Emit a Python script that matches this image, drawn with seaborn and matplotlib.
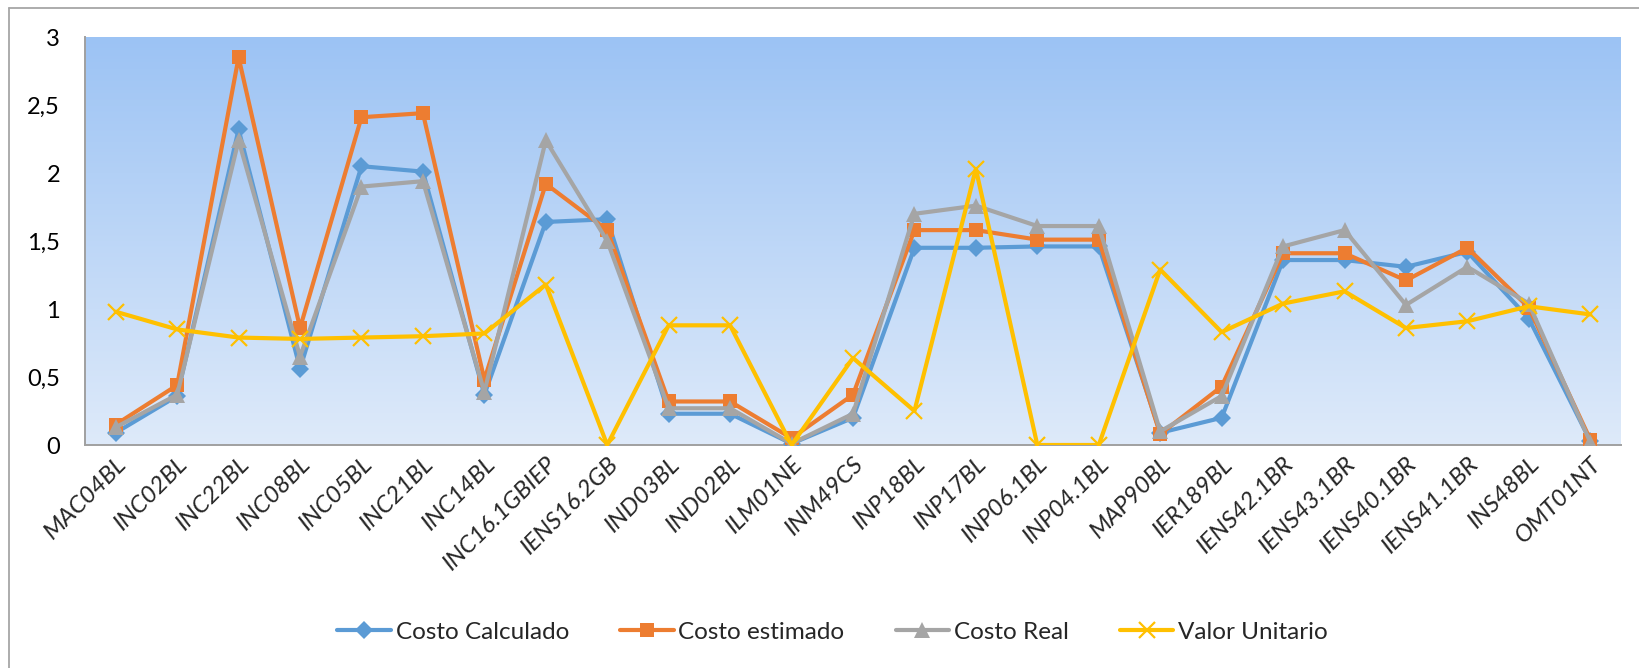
import matplotlib
matplotlib.use("Agg")
import matplotlib.pyplot as plt
import numpy as np
import pandas as pd
import seaborn as sns
from matplotlib.lines import Line2D
from matplotlib.ticker import FuncFormatter, MultipleLocator

categories = [
    "MAC04BL", "INC02BL", "INC22BL", "INC08BL", "INC05BL", "INC21BL",
    "INC14BL", "INC16.1GBIEP", "IENS16.2GB", "IND03BL", "IND02BL", "ILM01NE",
    "INM49CS", "INP18BL", "INP17BL", "INP06.1BL", "INP04.1BL", "MAP90BL",
    "IER189BL", "IENS42.1BR", "IENS43.1BR", "IENS40.1BR", "IENS41.1BR",
    "INS48BL", "OMT01NT",
]

costo_calculado = [0.09, 0.36, 2.32, 0.56, 2.05, 2.01, 0.37, 1.64, 1.66, 0.23,
                   0.23, 0.01, 0.20, 1.45, 1.45, 1.46, 1.46, 0.09, 0.20, 1.36,
                   1.36, 1.31, 1.42, 0.93, 0.03]
costo_estimado = [0.15, 0.44, 2.85, 0.86, 2.41, 2.44, 0.48, 1.92, 1.58, 0.32,
                  0.32, 0.05, 0.37, 1.58, 1.58, 1.51, 1.51, 0.08, 0.43, 1.41,
                  1.41, 1.21, 1.45, 1.01, 0.04]
costo_real = [0.13, 0.37, 2.24, 0.65, 1.90, 1.94, 0.39, 2.24, 1.50, 0.27,
              0.27, 0.01, 0.23, 1.70, 1.76, 1.61, 1.61, 0.10, 0.36, 1.46,
              1.58, 1.03, 1.31, 1.04, 0.02]
valor_unitario = [0.98, 0.85, 0.79, 0.78, 0.79, 0.80, 0.82, 1.18, 0.00, 0.88,
                  0.88, 0.00, 0.64, 0.25, 2.03, 0.00, 0.00, 1.29, 0.83, 1.04,
                  1.13, 0.86, 0.91, 1.02, 0.96]

series_names = ["Costo Calculado", "Costo estimado", "Costo Real", "Valor Unitario"]
colors = ["#5B9BD5", "#ED7D31", "#A5A5A5", "#FFC000"]
markers = ["D", "s", "^", "x"]
marker_sizes = [9.5, 10.5, 11.5, 11.5]

W, H = 1639, 668

df = pd.DataFrame({
    "codigo": categories,
    "Costo Calculado": costo_calculado,
    "Costo estimado": costo_estimado,
    "Costo Real": costo_real,
    "Valor Unitario": valor_unitario,
})
n = len(df)

sns.set_theme(style="white")
plt.rcParams["font.family"] = ["Lato", "DejaVu Sans"]

fig = plt.figure(figsize=(W / 100, H / 100), dpi=100)
ax = fig.add_axes([85 / W, 1 - 445 / H, (1621 - 85) / W, (445 - 37) / H])

# gradient background of the plot area
grad = np.linspace(0, 1, 256)[:, None]
top = np.array([156, 195, 244]) / 255
bottom = np.array([222, 234, 250]) / 255
img = top[None, None, :] * (1 - grad[:, :, None]) + bottom[None, None, :] * grad[:, :, None]
ax.imshow(img, extent=(-0.5, n - 0.5, 0, 3), aspect="auto", zorder=0)

for name, color, mk, ms in zip(series_names, colors, markers, marker_sizes):
    sns.lineplot(data=df, x="codigo", y=name, color=color, marker=mk,
                 markersize=ms, lw=3, sort=False, ax=ax, zorder=3)
    line = ax.lines[-1]
    line.set_markeredgecolor(color)
    line.set_markeredgewidth(1.6 if mk == "x" else 0)

ax.set_xlim(-0.5, n - 0.5)
ax.set_ylim(0, 3)
ax.yaxis.set_major_locator(MultipleLocator(0.5))
ax.yaxis.set_major_formatter(FuncFormatter(lambda v, p: f"{v:g}".replace(".", ",")))
ax.set_xlabel("")
ax.set_ylabel("")
ax.tick_params(axis="y", length=0, pad=18, labelsize=17, colors="#000000")
ax.tick_params(axis="x", length=0, pad=6, labelsize=17.5)
ax.set_xticks(range(n))
ax.set_xticklabels(categories, rotation=45, ha="right", va="top",
                   rotation_mode="anchor", style="italic")

for side in ["top", "right"]:
    ax.spines[side].set_visible(False)
for side in ["left", "bottom"]:
    ax.spines[side].set_color("#A0A0A0")
    ax.spines[side].set_linewidth(1.4)

handles = [Line2D([0], [0], color=c, lw=3, marker=m, markersize=s,
                  markeredgecolor=c, markeredgewidth=1.6 if m == "x" else 0)
           for c, m, s in zip(colors, markers, marker_sizes)]
fig.legend(handles, series_names, loc="center", bbox_to_anchor=(0.508, 1 - 632 / H),
           ncol=4, frameon=False, fontsize=17.5, handlelength=2.2,
           columnspacing=2.1, handletextpad=0.2)

# chart area border (top and left only visible)
fig.add_artist(Line2D([9 / W, 1], [1 - 8 / H, 1 - 8 / H], transform=fig.transFigure,
                      color="#A6A6A6", lw=1.3))
fig.add_artist(Line2D([9 / W, 9 / W], [0, 1 - 8 / H], transform=fig.transFigure,
                      color="#A6A6A6", lw=1.3))

fig.savefig("out.png", dpi=100)
